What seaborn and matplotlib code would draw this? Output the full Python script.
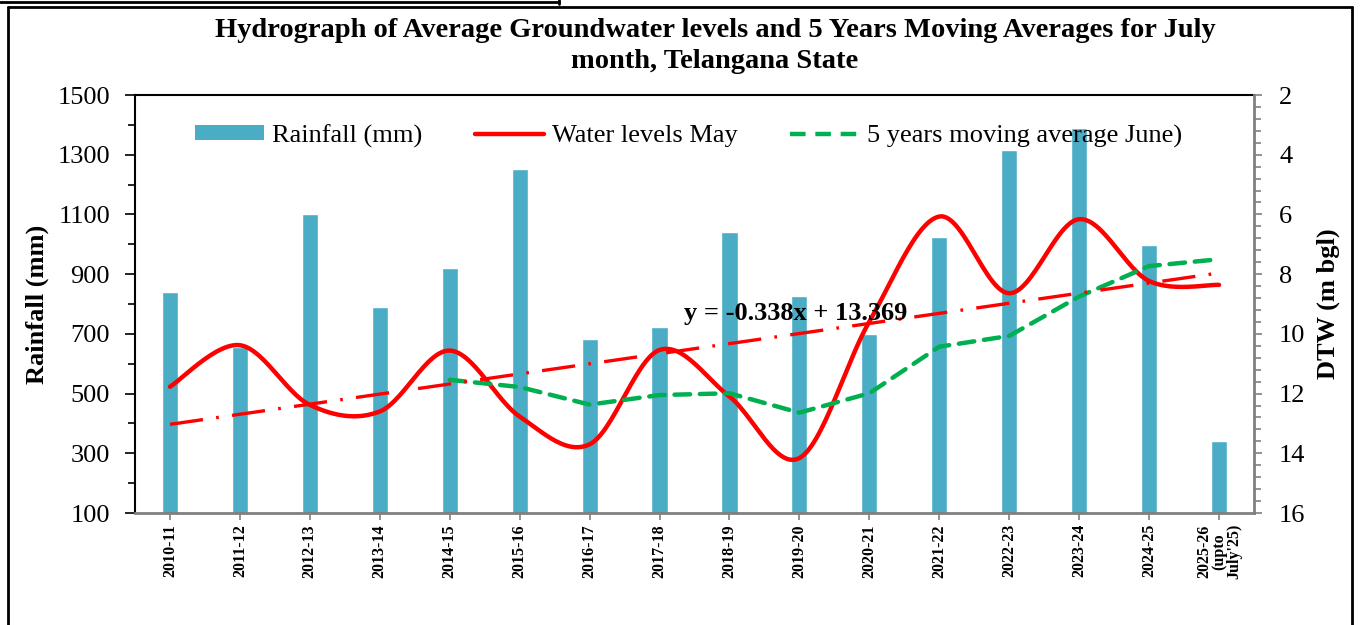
import numpy as np
import pandas as pd
import matplotlib
matplotlib.use('Agg')
import matplotlib.pyplot as plt
import seaborn as sns
from matplotlib.lines import Line2D
from matplotlib.patches import Patch
from matplotlib.ticker import MultipleLocator

years = ['2010-11', '2011-12', '2012-13', '2013-14', '2014-15', '2015-16', '2016-17',
         '2017-18', '2018-19', '2019-20', '2020-21', '2021-22', '2022-23', '2023-24',
         '2024-25', "2025-26\n(upto\nJuly'25)"]
rainfall = [840, 655, 1103, 790, 920, 1252, 683, 723, 1041, 827, 700, 1024, 1316, 1389, 997, 341]
water_levels = [11.77, 10.38, 12.38, 12.6, 10.56, 12.77, 13.7, 10.54, 12.1, 14.16, 9.59,
                6.07, 8.64, 6.16, 8.23, 8.36]
moving_avg = [np.nan, np.nan, np.nan, np.nan, 11.54, 11.78, 12.37, 12.05, 11.99, 12.64, 11.99,
              10.43, 10.07, 8.75, 7.73, 7.5]
trend_slope = -0.338
trend_intercept = 13.369

sns.set_style('white')
plt.rcParams['font.family'] = ['Liberation Serif', 'DejaVu Serif']
plt.rcParams.update({'text.color': 'black', 'axes.labelcolor': 'black',
                     'xtick.labelcolor': 'black', 'ytick.labelcolor': 'black'})


def smooth(xs, ys, n=30):
    # excel-like smoothed line (catmull-rom bezier)
    xs = np.asarray(xs, float)
    ys = np.asarray(ys, float)
    px, py = [], []
    for i in range(len(xs) - 1):
        x0, y0 = (xs[i - 1], ys[i - 1]) if i > 0 else (xs[i], ys[i])
        x3, y3 = (xs[i + 2], ys[i + 2]) if i + 2 < len(xs) else (xs[i + 1], ys[i + 1])
        x1, y1, x2, y2 = xs[i], ys[i], xs[i + 1], ys[i + 1]
        c1x, c1y = x1 + (x2 - x0) / 6, y1 + (y2 - y0) / 6
        c2x, c2y = x2 - (x3 - x1) / 6, y2 - (y3 - y1) / 6
        t = np.linspace(0, 1, n)
        bx = (1-t)**3*x1 + 3*(1-t)**2*t*c1x + 3*(1-t)*t**2*c2x + t**3*x2
        by = (1-t)**3*y1 + 3*(1-t)**2*t*c1y + 3*(1-t)*t**2*c2y + t**3*y2
        px.extend(bx)
        py.extend(by)
    return np.array(px), np.array(py)


df = pd.DataFrame({'Year': years, 'Rainfall': rainfall})
pos = np.arange(len(years))

fig = plt.figure(figsize=(13.71, 6.25), dpi=100)
ax = fig.add_axes([135/1371, 1 - 513/625, (1254-135)/1371, (513-95)/625])
sns.barplot(data=df, x='Year', y='Rainfall', color='#4BACC6', saturation=1, width=0.23, ax=ax)
ax.set_xlim(-0.5, 15.5)
ax.set_ylim(100, 1500)
ax.yaxis.set_minor_locator(MultipleLocator(100))
ax.set_yticks(range(100, 1501, 200))
ax.tick_params(axis='y', which='major', direction='out', length=7, width=1.2, color='black',
               labelsize=19, pad=11, left=True)
ax.tick_params(axis='y', which='minor', direction='out', length=5, width=1.2, color='black', left=True)
ax.tick_params(axis='x', direction='out', length=5, width=1.2, color='#808080', bottom=True, pad=3)
ax.set_xticks(pos)
ax.set_xticklabels(years, rotation=90, fontsize=11.5, fontweight='bold', linespacing=0.9)
ax.set_xlabel('')
ax.set_ylabel('Rainfall (mm)', fontsize=19, fontweight='bold', labelpad=6)
for s in ['left', 'top']:
    ax.spines[s].set_color('black')
    ax.spines[s].set_linewidth(1.5)
ax.spines['bottom'].set_color('#808080')
ax.spines['bottom'].set_linewidth(2)
ax.spines['right'].set_visible(False)

ax2 = ax.twinx()
ax2.set_ylim(16, 2)
ax2.yaxis.set_major_locator(MultipleLocator(2))
ax2.yaxis.set_minor_locator(MultipleLocator(0.4))
ax2.tick_params(axis='y', which='major', direction='out', length=6, width=1.2, color='#808080',
                labelsize=19, pad=12, right=True)
ax2.tick_params(axis='y', which='minor', direction='out', length=5, width=1.2, color='#808080', right=True)
ax2.set_ylabel('DTW (m bgl)', fontsize=19, fontweight='bold', labelpad=8)
for s in ['left', 'top', 'bottom']:
    ax2.spines[s].set_visible(False)
ax2.spines['right'].set_color('#808080')
ax2.spines['right'].set_linewidth(2)

sx, sy = smooth(pos, water_levels)
ax2.plot(sx, sy, color='#FF0000', lw=3.2, solid_capstyle='round')

ma = np.array(moving_avg)
ok = ~np.isnan(ma)
ax2.plot(pos[ok], ma[ok], color='#00B050', lw=3.2, dashes=(3.5, 2.2), dash_capstyle='round')

trend = trend_intercept + trend_slope * (pos + 1)
ax2.plot(pos, trend, color='#FF0000', lw=2.4, dashes=(10, 4, 0.8, 4))

ax2.text(0.59, 0.478, 'y = -0.338x + 13.369', transform=ax.transAxes, ha='center', va='center',
         fontsize=19, fontweight='bold')

handles = [Patch(facecolor='#4BACC6', edgecolor='none', label='Rainfall (mm)'),
           Line2D([], [], color='#FF0000', lw=3.2, label='Water levels May'),
           Line2D([], [], color='#00B050', lw=3.2, dashes=(3.5, 2.2), label='5 years moving average June)')]
ax2.legend(handles=handles, loc='center left', bbox_to_anchor=(0.054, 0.902), ncol=3, frameon=False,
           fontsize=19, handlelength=2.6, handleheight=0.5, handletextpad=0.3, columnspacing=2.0,
           borderpad=0, borderaxespad=0)

fig.suptitle('Hydrograph of Average Groundwater levels and 5 Years Moving Averages for July\nmonth, Telangana State',
             x=(218+1212)/2/1371, y=1 - 18/625, va='top', fontsize=20.5, fontweight='bold', linespacing=1.3)

# outer frame
W, H = 1371, 625
fr = lambda x, y: (x / W, 1 - y / H)
for (x0, y0), (x1, y1), lw in [((8, 7), (1352, 7), 2), ((8, 7), (8, 625), 2), ((1352, 7), (1352, 625), 2),
                               ((0, 2), (559, 2), 2), ((559, 0), (559, 4), 2)]:
    a, b = fr(x0, y0), fr(x1, y1)
    fig.add_artist(Line2D([a[0], b[0]], [a[1], b[1]], color='black', lw=lw))

fig.savefig('out.png', dpi=100)
